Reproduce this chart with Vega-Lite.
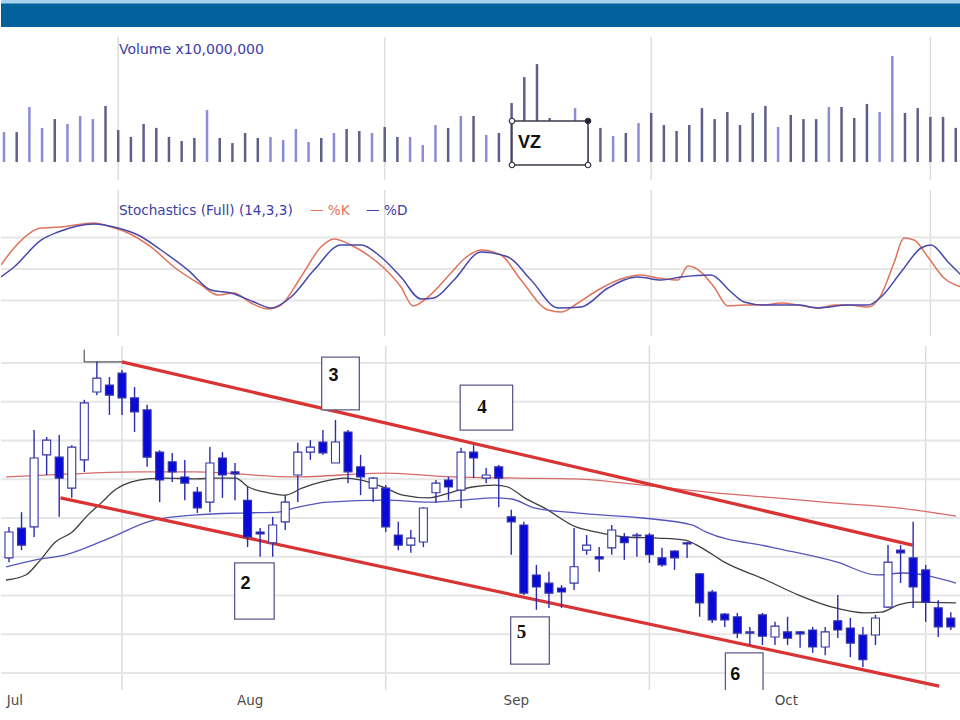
{
  "$schema": "https://vega.github.io/schema/vega-lite/v6.json",
  "background": "white",
  "padding": {"left": 0, "top": 0, "right": 0, "bottom": 30},
  "spacing": 10,
  "bounds": "flush",
  "resolve": {"scale": {"color": "independent"}},
  "config": {"view": {"stroke": null}},
  "datasets": {
    "candles": [
      {"t":0,"o":30.97,"c":31.64,"h":31.77,"l":30.86,"v":1.36},
      {"t":1,"o":31.74,"c":31.30,"h":32.15,"l":31.17,"v":1.36},
      {"t":2,"o":31.77,"c":33.55,"h":34.27,"l":31.51,"v":2.50},
      {"t":3,"o":33.63,"c":34.01,"h":34.09,"l":33.11,"v":1.55},
      {"t":4,"o":33.57,"c":33.03,"h":34.14,"l":32.03,"v":1.95},
      {"t":5,"o":32.77,"c":33.83,"h":33.88,"l":32.52,"v":1.73},
      {"t":6,"o":33.50,"c":34.97,"h":35.05,"l":33.19,"v":2.09},
      {"t":7,"o":35.25,"c":35.61,"h":36.03,"l":35.17,"v":1.95},
      {"t":8,"o":35.43,"c":35.17,"h":35.64,"l":34.66,"v":2.55},
      {"t":9,"o":35.74,"c":35.10,"h":35.82,"l":34.66,"v":1.45},
      {"t":10,"o":35.10,"c":34.74,"h":35.38,"l":34.22,"v":1.14},
      {"t":11,"o":34.79,"c":33.57,"h":34.92,"l":33.32,"v":1.73},
      {"t":12,"o":33.70,"c":32.98,"h":33.75,"l":32.41,"v":1.55},
      {"t":13,"o":33.45,"c":33.19,"h":33.68,"l":32.93,"v":1.14},
      {"t":14,"o":33.06,"c":32.90,"h":33.50,"l":32.46,"v":0.95},
      {"t":15,"o":32.67,"c":32.26,"h":32.80,"l":32.13,"v":1.09},
      {"t":16,"o":32.41,"c":33.42,"h":33.83,"l":32.15,"v":2.36},
      {"t":17,"o":33.55,"c":33.11,"h":33.70,"l":32.52,"v":1.09},
      {"t":18,"o":33.19,"c":33.14,"h":33.42,"l":32.46,"v":0.86},
      {"t":19,"o":32.46,"c":31.51,"h":32.80,"l":31.25,"v":1.32},
      {"t":20,"o":31.64,"c":31.59,"h":31.74,"l":31.00,"v":1.09},
      {"t":21,"o":31.36,"c":31.82,"h":32.03,"l":31.00,"v":1.14},
      {"t":22,"o":31.90,"c":32.41,"h":32.59,"l":31.69,"v":1.00},
      {"t":23,"o":33.11,"c":33.70,"h":33.94,"l":32.41,"v":1.50},
      {"t":24,"o":33.70,"c":33.83,"h":34.01,"l":33.50,"v":0.91},
      {"t":25,"o":33.96,"c":33.68,"h":34.27,"l":33.63,"v":1.09},
      {"t":26,"o":33.42,"c":33.96,"h":34.53,"l":33.42,"v":1.32},
      {"t":27,"o":34.22,"c":33.19,"h":34.27,"l":32.90,"v":1.50},
      {"t":28,"o":33.32,"c":33.06,"h":33.63,"l":32.59,"v":1.41},
      {"t":29,"o":32.77,"c":33.03,"h":33.06,"l":32.41,"v":1.32},
      {"t":30,"o":32.77,"c":31.77,"h":32.85,"l":31.64,"v":1.59},
      {"t":31,"o":31.56,"c":31.30,"h":31.90,"l":31.17,"v":1.14},
      {"t":32,"o":31.30,"c":31.48,"h":31.69,"l":31.10,"v":1.14},
      {"t":33,"o":31.38,"c":32.26,"h":32.28,"l":31.25,"v":0.77},
      {"t":34,"o":32.65,"c":32.90,"h":32.98,"l":32.39,"v":1.68},
      {"t":35,"o":32.98,"c":32.80,"h":33.06,"l":32.46,"v":1.55},
      {"t":36,"o":32.72,"c":33.70,"h":33.81,"l":32.26,"v":2.09},
      {"t":37,"o":33.70,"c":33.55,"h":33.88,"l":33.03,"v":2.09},
      {"t":38,"o":33.03,"c":33.11,"h":33.29,"l":32.90,"v":1.23},
      {"t":39,"o":33.32,"c":33.03,"h":33.37,"l":32.28,"v":1.32},
      {"t":40,"o":32.03,"c":31.90,"h":32.21,"l":31.05,"v":2.68},
      {"t":41,"o":31.82,"c":30.06,"h":31.90,"l":30.01,"v":3.86},
      {"t":42,"o":30.53,"c":30.22,"h":30.79,"l":29.63,"v":4.45},
      {"t":43,"o":30.32,"c":30.06,"h":30.61,"l":29.68,"v":2.00},
      {"t":44,"o":30.19,"c":30.09,"h":30.27,"l":29.68,"v":1.68},
      {"t":45,"o":30.32,"c":30.74,"h":31.74,"l":30.14,"v":2.45},
      {"t":46,"o":31.17,"c":31.30,"h":31.56,"l":31.05,"v":1.55},
      {"t":47,"o":31.00,"c":30.94,"h":31.25,"l":30.61,"v":1.55},
      {"t":48,"o":31.23,"c":31.69,"h":31.82,"l":31.05,"v":1.18},
      {"t":49,"o":31.51,"c":31.36,"h":31.61,"l":30.92,"v":1.32},
      {"t":50,"o":31.54,"c":31.56,"h":31.61,"l":31.00,"v":1.77},
      {"t":51,"o":31.56,"c":31.05,"h":31.61,"l":30.84,"v":2.23},
      {"t":52,"o":30.97,"c":30.79,"h":31.23,"l":30.74,"v":1.68},
      {"t":53,"o":31.15,"c":30.97,"h":31.17,"l":30.66,"v":1.41},
      {"t":54,"o":31.36,"c":31.33,"h":31.38,"l":30.97,"v":1.68},
      {"t":55,"o":30.56,"c":29.81,"h":30.58,"l":29.45,"v":2.45},
      {"t":56,"o":30.09,"c":29.37,"h":30.14,"l":29.29,"v":1.95},
      {"t":57,"o":29.52,"c":29.37,"h":29.55,"l":29.19,"v":2.27},
      {"t":58,"o":29.45,"c":29.03,"h":29.55,"l":28.90,"v":1.68},
      {"t":59,"o":29.06,"c":29.03,"h":29.19,"l":28.72,"v":2.23},
      {"t":60,"o":29.50,"c":28.95,"h":29.55,"l":28.72,"v":2.55},
      {"t":61,"o":28.93,"c":29.21,"h":29.32,"l":28.72,"v":1.59},
      {"t":62,"o":29.06,"c":28.90,"h":29.45,"l":28.72,"v":2.14},
      {"t":63,"o":29.06,"c":29.01,"h":29.08,"l":28.65,"v":1.95},
      {"t":64,"o":29.11,"c":28.67,"h":29.19,"l":28.52,"v":1.95},
      {"t":65,"o":28.67,"c":29.06,"h":29.19,"l":28.46,"v":2.50},
      {"t":66,"o":29.35,"c":29.11,"h":30.01,"l":28.90,"v":2.50},
      {"t":67,"o":29.16,"c":28.77,"h":29.42,"l":28.41,"v":2.00},
      {"t":68,"o":28.98,"c":28.34,"h":29.19,"l":28.15,"v":2.64},
      {"t":69,"o":28.98,"c":29.42,"h":29.50,"l":28.72,"v":2.27},
      {"t":70,"o":29.70,"c":30.86,"h":31.30,"l":29.68,"v":4.82},
      {"t":71,"o":31.17,"c":31.10,"h":31.30,"l":30.32,"v":2.23},
      {"t":72,"o":30.97,"c":30.22,"h":31.90,"l":29.68,"v":2.45},
      {"t":73,"o":30.66,"c":29.83,"h":30.79,"l":29.32,"v":2.05},
      {"t":74,"o":29.68,"c":29.19,"h":29.88,"l":28.93,"v":2.05},
      {"t":75,"o":29.42,"c":29.19,"h":29.57,"l":29.11,"v":1.55}
    ],
    "ma": [
      {"s":"ma20","t":-0.24,"p":30.40},{"s":"ma20","t":1.34,"p":30.53},{"s":"ma20","t":2.36,"p":30.86},{"s":"ma20","t":3.70,"p":31.38},
      {"s":"ma20","t":5.04,"p":31.64},{"s":"ma20","t":6.30,"p":32.08},{"s":"ma20","t":7.41,"p":32.41},{"s":"ma20","t":8.43,"p":32.72},
      {"s":"ma20","t":9.77,"p":32.93},{"s":"ma20","t":11.03,"p":33.01},{"s":"ma20","t":12.37,"p":33.03},{"s":"ma20","t":14.89,"p":33.01},
      {"s":"ma20","t":16.47,"p":33.03},{"s":"ma20","t":18.05,"p":33.03},{"s":"ma20","t":19.07,"p":32.80},{"s":"ma20","t":20.65,"p":32.65},
      {"s":"ma20","t":21.99,"p":32.59},{"s":"ma20","t":23.33,"p":32.77},{"s":"ma20","t":24.90,"p":32.93},{"s":"ma20","t":26.71,"p":33.03},
      {"s":"ma20","t":28.05,"p":32.98},{"s":"ma20","t":30.02,"p":32.77},{"s":"ma20","t":31.36,"p":32.59},{"s":"ma20","t":33.41,"p":32.52},
      {"s":"ma20","t":35.30,"p":32.67},{"s":"ma20","t":36.88,"p":32.80},{"s":"ma20","t":38.69,"p":32.85},{"s":"ma20","t":39.72,"p":32.80},
      {"s":"ma20","t":41.06,"p":32.52},{"s":"ma20","t":42.63,"p":32.26},{"s":"ma20","t":45.15,"p":31.77},{"s":"ma20","t":46.73,"p":31.64},
      {"s":"ma20","t":49.09,"p":31.51},{"s":"ma20","t":51.69,"p":31.48},{"s":"ma20","t":53.82,"p":31.43},{"s":"ma20","t":55.16,"p":31.23},
      {"s":"ma20","t":56.97,"p":30.86},{"s":"ma20","t":60.28,"p":30.40},{"s":"ma20","t":62.88,"p":30.01},{"s":"ma20","t":65.56,"p":29.70},
      {"s":"ma20","t":68.16,"p":29.55},{"s":"ma20","t":69.50,"p":29.57},{"s":"ma20","t":70.76,"p":29.75},{"s":"ma20","t":72.10,"p":29.83},
      {"s":"ma20","t":75.41,"p":29.81},
      {"s":"ma50","t":-0.24,"p":30.74},{"s":"ma50","t":2.13,"p":30.92},{"s":"ma50","t":4.49,"p":31.05},{"s":"ma50","t":7.64,"p":31.43},
      {"s":"ma50","t":11.58,"p":31.95},{"s":"ma50","t":14.89,"p":32.08},{"s":"ma50","t":18.83,"p":32.13},{"s":"ma50","t":21.43,"p":32.15},
      {"s":"ma50","t":22.77,"p":32.26},{"s":"ma50","t":25.37,"p":32.41},{"s":"ma50","t":30.02,"p":32.46},{"s":"ma50","t":33.41,"p":32.41},
      {"s":"ma50","t":36.09,"p":32.46},{"s":"ma50","t":38.69,"p":32.52},{"s":"ma50","t":40.03,"p":32.49},{"s":"ma50","t":41.84,"p":32.26},
      {"s":"ma50","t":45.15,"p":32.13},{"s":"ma50","t":50.43,"p":32.00},{"s":"ma50","t":54.37,"p":31.82},{"s":"ma50","t":55.48,"p":31.64},
      {"s":"ma50","t":60.68,"p":31.25},{"s":"ma50","t":65.96,"p":30.86},{"s":"ma50","t":69.11,"p":30.53},{"s":"ma50","t":71.24,"p":30.58},
      {"s":"ma50","t":75.41,"p":30.32},
      {"s":"ma200","t":-0.24,"p":33.06},{"s":"ma200","t":5.04,"p":33.14},{"s":"ma200","t":10.24,"p":33.19},{"s":"ma200","t":14.89,"p":33.19},
      {"s":"ma200","t":22.77,"p":33.06},{"s":"ma200","t":30.02,"p":33.16},{"s":"ma200","t":35.30,"p":33.06},{"s":"ma200","t":40.50,"p":33.03},
      {"s":"ma200","t":45.15,"p":33.01},{"s":"ma200","t":50.43,"p":32.85},{"s":"ma200","t":55.63,"p":32.67},{"s":"ma200","t":60.28,"p":32.54},
      {"s":"ma200","t":65.56,"p":32.39},{"s":"ma200","t":70.76,"p":32.26},{"s":"ma200","t":75.41,"p":32.05}
    ],
    "trend": [
      {"g":"up","t":8.98,"p":36.03},{"g":"up","t":71.95,"p":31.30},
      {"g":"lo","t":4.10,"p":32.52},{"g":"lo","t":74.07,"p":27.66}
    ],
    "lmark": [
      {"t":5.99,"p":36.34},{"t":5.99,"p":36.03},{"t":8.98,"p":36.03}
    ],
    "boxes": [
      {"label":"2","t1":17.97,"t2":21.12,"p1":30.84,"p2":29.39,"tx":18.83,"px":30.30},
      {"label":"3","t1":24.90,"t2":27.90,"p1":36.15,"p2":34.79,"tx":25.85,"px":35.66},
      {"label":"4","t1":35.93,"t2":40.11,"p1":35.43,"p2":34.27,"tx":37.67,"px":34.86},
      {"label":"5","t1":39.95,"t2":43.03,"p1":29.45,"p2":28.23,"tx":40.82,"px":29.06},
      {"label":"6","t1":57.05,"t2":60.05,"p1":28.52,"p2":27.30,"tx":57.84,"px":27.95}
    ],
    "vgrid": [{"t":9},{"t":30},{"t":51},{"t":73}],
    "pgrid": [{"p":28},{"p":29},{"p":30},{"p":31},{"p":32},{"p":33},{"p":34},{"p":35},{"p":36}],
    "sgrid": [{"v":20},{"v":50},{"v":80}],
    "months": [
      {"t":0.47,"p":27.28,"label":"Jul"},
      {"t":19.2,"p":27.28,"label":"Aug"},
      {"t":40.4,"p":27.28,"label":"Sep"},
      {"t":61.9,"p":27.28,"label":"Oct"}
    ],
    "stoch": [
      {"s":"K","t":-0.24,"v":53.8},{"s":"K","t":0.79,"v":70.0},{"s":"K","t":2.92,"v":89.0},{"s":"K","t":4.49,"v":90.0},
      {"s":"K","t":7.09,"v":93.8},{"s":"K","t":8.43,"v":90.0},{"s":"K","t":9.77,"v":84.3},{"s":"K","t":11.58,"v":71.0},
      {"s":"K","t":13.40,"v":51.9},{"s":"K","t":15.52,"v":34.8},{"s":"K","t":16.86,"v":25.2},{"s":"K","t":18.12,"v":27.1},
      {"s":"K","t":19.46,"v":17.6},{"s":"K","t":20.80,"v":11.9},{"s":"K","t":21.83,"v":15.7},{"s":"K","t":23.40,"v":42.4},
      {"s":"K","t":24.98,"v":71.0},{"s":"K","t":26.00,"v":78.6},{"s":"K","t":27.34,"v":72.9},{"s":"K","t":28.68,"v":63.3},
      {"s":"K","t":29.94,"v":51.0},{"s":"K","t":31.28,"v":32.9},{"s":"K","t":32.23,"v":14.8},{"s":"K","t":33.41,"v":23.3},
      {"s":"K","t":35.22,"v":46.2},{"s":"K","t":36.25,"v":59.5},{"s":"K","t":37.59,"v":68.1},{"s":"K","t":39.16,"v":63.3},
      {"s":"K","t":40.74,"v":39.5},{"s":"K","t":42.87,"v":11.0},{"s":"K","t":43.89,"v":9.0},{"s":"K","t":45.23,"v":17.6},
      {"s":"K","t":46.81,"v":30.0},{"s":"K","t":48.62,"v":40.5},{"s":"K","t":50.20,"v":44.3},{"s":"K","t":51.54,"v":41.4},
      {"s":"K","t":53.11,"v":39.5},{"s":"K","t":53.90,"v":52.9},{"s":"K","t":54.93,"v":47.1},{"s":"K","t":55.95,"v":32.9},
      {"s":"K","t":57.05,"v":14.8},{"s":"K","t":58.31,"v":15.7},{"s":"K","t":59.89,"v":15.7},{"s":"K","t":61.23,"v":17.6},
      {"s":"K","t":62.57,"v":15.7},{"s":"K","t":64.14,"v":12.9},{"s":"K","t":65.56,"v":15.7},{"s":"K","t":66.51,"v":15.7},
      {"s":"K","t":68.09,"v":13.8},{"s":"K","t":69.11,"v":25.2},{"s":"K","t":70.13,"v":55.7},{"s":"K","t":70.92,"v":79.5},
      {"s":"K","t":71.71,"v":77.6},{"s":"K","t":72.81,"v":61.4},{"s":"K","t":74.07,"v":41.4},{"s":"K","t":75.41,"v":32.9},
      {"s":"D","t":-0.24,"v":42.4},{"s":"D","t":0.79,"v":51.9},{"s":"D","t":2.92,"v":77.6},{"s":"D","t":4.26,"v":85.2},
      {"s":"D","t":7.09,"v":92.9},{"s":"D","t":8.98,"v":89.0},{"s":"D","t":10.56,"v":82.4},{"s":"D","t":12.37,"v":68.1},
      {"s":"D","t":14.50,"v":49.0},{"s":"D","t":16.31,"v":30.0},{"s":"D","t":17.89,"v":27.1},{"s":"D","t":19.70,"v":18.6},
      {"s":"D","t":21.04,"v":12.9},{"s":"D","t":22.62,"v":23.3},{"s":"D","t":24.43,"v":49.0},{"s":"D","t":26.56,"v":72.9},
      {"s":"D","t":28.13,"v":72.9},{"s":"D","t":29.71,"v":61.4},{"s":"D","t":31.28,"v":42.4},{"s":"D","t":32.86,"v":21.4},
      {"s":"D","t":33.88,"v":22.4},{"s":"D","t":35.46,"v":39.5},{"s":"D","t":37.59,"v":66.2},{"s":"D","t":39.72,"v":61.4},
      {"s":"D","t":41.53,"v":39.5},{"s":"D","t":43.66,"v":12.9},{"s":"D","t":45.47,"v":13.8},{"s":"D","t":47.60,"v":31.9},
      {"s":"D","t":49.96,"v":42.4},{"s":"D","t":51.77,"v":39.5},{"s":"D","t":53.35,"v":42.4},{"s":"D","t":55.71,"v":44.3},
      {"s":"D","t":57.29,"v":28.1},{"s":"D","t":58.31,"v":18.6},{"s":"D","t":59.89,"v":15.7},{"s":"D","t":62.57,"v":15.7},
      {"s":"D","t":64.14,"v":12.9},{"s":"D","t":66.51,"v":15.7},{"s":"D","t":68.09,"v":15.7},{"s":"D","t":69.11,"v":23.3},
      {"s":"D","t":70.69,"v":47.1},{"s":"D","t":72.26,"v":70.0},{"s":"D","t":73.05,"v":72.9},{"s":"D","t":74.39,"v":56.7},
      {"s":"D","t":75.41,"v":44.3}
    ]
  },
  "vconcat": [
    {
      "width": 960,
      "height": 27,
      "view": {"fill": "#03619b", "stroke": null},
      "data": {"values": [{"x1": 0, "x2": 1, "y1": 23.6, "y2": 27}]},
      "mark": {"type": "rect", "fill": "#a6d4f0", "strokeWidth": 0},
      "encoding": {
        "x": {"field": "x1", "type": "quantitative", "scale": {"domain": [0, 1], "nice": false, "zero": false}, "axis": null},
        "x2": {"field": "x2"},
        "y": {"field": "y1", "type": "quantitative", "scale": {"domain": [0, 27], "nice": false, "zero": false}, "axis": null},
        "y2": {"field": "y2"}
      }
    },
    {
      "width": 960,
      "height": 143,
      "layer": [
        {
          "data": {"name": "vgrid"},
          "mark": {"type": "rule", "color": "#dddddd", "strokeWidth": 1.5},
          "encoding": {
            "x": {"field": "t", "type": "quantitative", "scale": {"domain": [-0.2364, 75.4137], "nice": false, "zero": false}, "axis": null}
          }
        },
        {
          "data": {"name": "candles"},
          "mark": {"type": "rule", "strokeWidth": 2.5, "clip": true},
          "encoding": {
            "x": {"field": "t", "type": "quantitative", "axis": null},
            "y": {"field": "v", "type": "quantitative", "scale": {"domain": [-0.818, 5.682], "nice": false, "zero": false}, "axis": null},
            "y2": {"datum": 0},
            "color": {"condition": {"test": "datum.c >= datum.o", "value": "#8c8cd6"}, "value": "#5f5f8a"}
          }
        },
        {
          "data": {"values": [{"t1": 40.03, "t2": 46.02, "v1": -0.136, "v2": 1.864}]},
          "mark": {"type": "rect", "fill": "white", "stroke": "#3c3c4c", "strokeWidth": 1.5},
          "encoding": {
            "x": {"field": "t1", "type": "quantitative", "axis": null},
            "x2": {"field": "t2"},
            "y": {"field": "v1", "type": "quantitative", "axis": null},
            "y2": {"field": "v2"}
          }
        },
        {
          "data": {"values": [{"t": 40.03, "v": 1.864}, {"t": 46.02, "v": 1.864}, {"t": 40.03, "v": -0.136}, {"t": 46.02, "v": -0.136}]},
          "mark": {"type": "point", "filled": true, "size": 30, "stroke": "#333340", "strokeWidth": 1.2},
          "encoding": {
            "x": {"field": "t", "type": "quantitative", "axis": null},
            "y": {"field": "v", "type": "quantitative", "axis": null},
            "fill": {"condition": {"test": "datum.t > 45 && datum.v > 1", "value": "#222230"}, "value": "white"},
            "opacity": {"value": 1}
          }
        },
        {
          "data": {"values": [{"t": 40.5, "v": 0.86, "label": "VZ"}]},
          "mark": {"type": "text", "align": "left", "baseline": "middle", "font": "Liberation Sans", "fontWeight": "bold", "fontSize": 18, "color": "#111111"},
          "encoding": {
            "x": {"field": "t", "type": "quantitative", "axis": null},
            "y": {"field": "v", "type": "quantitative", "axis": null},
            "text": {"field": "label"}
          }
        },
        {
          "data": {"values": [{"t": 9.06, "v": 5.09, "label": "Volume x10,000,000"}]},
          "mark": {"type": "text", "align": "left", "baseline": "middle", "font": "DejaVu Sans", "fontSize": 14, "color": "#3c3ca6"},
          "encoding": {
            "x": {"field": "t", "type": "quantitative", "axis": null},
            "y": {"field": "v", "type": "quantitative", "axis": null},
            "text": {"field": "label"}
          }
        }
      ]
    },
    {
      "width": 960,
      "height": 146,
      "layer": [
        {
          "data": {"name": "vgrid"},
          "mark": {"type": "rule", "color": "#dddddd", "strokeWidth": 1.5},
          "encoding": {
            "x": {"field": "t", "type": "quantitative", "scale": {"domain": [-0.2364, 75.4137], "nice": false, "zero": false}, "axis": null}
          }
        },
        {
          "data": {"name": "sgrid"},
          "mark": {"type": "rule", "color": "#e6e6e6", "strokeWidth": 2},
          "encoding": {
            "y": {"field": "v", "type": "quantitative", "scale": {"domain": [-13.81, 125.24], "nice": false, "zero": false}, "axis": null}
          }
        },
        {
          "data": {"name": "stoch"},
          "mark": {"type": "line", "strokeWidth": 1.5, "clip": true, "interpolate": "monotone"},
          "encoding": {
            "x": {"field": "t", "type": "quantitative", "axis": null},
            "y": {"field": "v", "type": "quantitative", "axis": null},
            "color": {"field": "s", "type": "nominal", "scale": {"domain": ["K", "D"], "range": ["#e0735c", "#4747ac"]}, "legend": null},
            "order": {"field": "t"}
          }
        },
        {
          "data": {"values": [
            {"t": 9.06, "v": 105.2, "label": "Stochastics (Full) (14,3,3)"},
            {"t": 24.11, "v": 105.2, "label": "— %K"},
            {"t": 28.53, "v": 105.2, "label": "— %D"}
          ]},
          "mark": {"type": "text", "align": "left", "baseline": "middle", "font": "DejaVu Sans", "fontSize": 13.6},
          "encoding": {
            "x": {"field": "t", "type": "quantitative", "axis": null},
            "y": {"field": "v", "type": "quantitative", "axis": null},
            "text": {"field": "label"},
            "color": {"condition": {"test": "datum.label == '— %K'", "value": "#e0735c"}, "value": "#3c3ca6"}
          }
        }
      ]
    },
    {
      "width": 960,
      "height": 344,
      "layer": [
        {
          "data": {"name": "vgrid"},
          "mark": {"type": "rule", "color": "#dddddd", "strokeWidth": 1.5},
          "encoding": {
            "x": {"field": "t", "type": "quantitative", "scale": {"domain": [-0.2364, 75.4137], "nice": false, "zero": false}, "axis": null}
          }
        },
        {
          "data": {"name": "pgrid"},
          "mark": {"type": "rule", "color": "#e6e6e6", "strokeWidth": 2},
          "encoding": {
            "y": {"field": "p", "type": "quantitative", "scale": {"domain": [27.561, 36.439], "nice": false, "zero": false}, "axis": null}
          }
        },
        {
          "data": {"name": "ma"},
          "mark": {"type": "line", "strokeWidth": 1.3, "clip": true, "interpolate": "monotone"},
          "encoding": {
            "x": {"field": "t", "type": "quantitative", "axis": null},
            "y": {"field": "p", "type": "quantitative", "axis": null},
            "color": {"field": "s", "type": "nominal", "scale": {"domain": ["ma200", "ma50", "ma20"], "range": ["#d86a6a", "#5555bb", "#3f3f3f"]}, "legend": null},
            "order": {"field": "t"}
          }
        },
        {
          "data": {"name": "trend"},
          "mark": {"type": "line", "strokeWidth": 3.2, "color": "#d83434", "clip": true},
          "encoding": {
            "x": {"field": "t", "type": "quantitative", "axis": null},
            "y": {"field": "p", "type": "quantitative", "axis": null},
            "detail": {"field": "g"}
          }
        },
        {
          "data": {"name": "lmark"},
          "mark": {"type": "line", "strokeWidth": 1.2, "color": "#555560", "clip": true},
          "encoding": {
            "x": {"field": "t", "type": "quantitative", "axis": null},
            "y": {"field": "p", "type": "quantitative", "axis": null},
            "order": {"field": "t"}
          }
        },
        {
          "data": {"name": "candles"},
          "mark": {"type": "rule", "strokeWidth": 1.4, "color": "#2b2bb0", "clip": true},
          "encoding": {
            "x": {"field": "t", "type": "quantitative", "axis": null},
            "y": {"field": "l", "type": "quantitative", "axis": null},
            "y2": {"field": "h"}
          }
        },
        {
          "data": {"name": "candles"},
          "mark": {"type": "bar", "width": 8, "stroke": "#3535a5", "strokeWidth": 1.1, "clip": true},
          "encoding": {
            "x": {"field": "t", "type": "quantitative", "axis": null},
            "y": {"field": "o", "type": "quantitative", "axis": null},
            "y2": {"field": "c"},
            "fill": {"condition": {"test": "datum.c >= datum.o", "value": "white"}, "value": "#0a0ad8"}
          }
        },
        {
          "data": {"name": "boxes"},
          "mark": {"type": "rect", "fill": "white", "stroke": "#5c5c8a", "strokeWidth": 1.3, "clip": true},
          "encoding": {
            "x": {"field": "t1", "type": "quantitative", "axis": null},
            "x2": {"field": "t2"},
            "y": {"field": "p1", "type": "quantitative", "axis": null},
            "y2": {"field": "p2"}
          }
        },
        {
          "data": {"name": "boxes"},
          "transform": [{"filter": "datum.label != '4' && datum.label != '5'"}],
          "mark": {"type": "text", "align": "center", "baseline": "middle", "font": "Liberation Sans", "fontWeight": "bold", "fontSize": 18, "color": "#111111"},
          "encoding": {
            "x": {"field": "tx", "type": "quantitative", "axis": null},
            "y": {"field": "px", "type": "quantitative", "axis": null},
            "text": {"field": "label"}
          }
        },
        {
          "data": {"name": "boxes"},
          "transform": [{"filter": "datum.label == '4' || datum.label == '5'"}],
          "mark": {"type": "text", "align": "center", "baseline": "middle", "font": "Liberation Serif", "fontWeight": "bold", "fontSize": 19, "color": "#111111"},
          "encoding": {
            "x": {"field": "tx", "type": "quantitative", "axis": null},
            "y": {"field": "px", "type": "quantitative", "axis": null},
            "text": {"field": "label"}
          }
        },
        {
          "data": {"name": "months"},
          "mark": {"type": "text", "align": "center", "baseline": "middle", "font": "DejaVu Sans", "fontSize": 13.5, "color": "#4a4a4a"},
          "encoding": {
            "x": {"field": "t", "type": "quantitative", "axis": null},
            "y": {"field": "p", "type": "quantitative", "axis": null},
            "text": {"field": "label"}
          }
        }
      ]
    }
  ]
}
